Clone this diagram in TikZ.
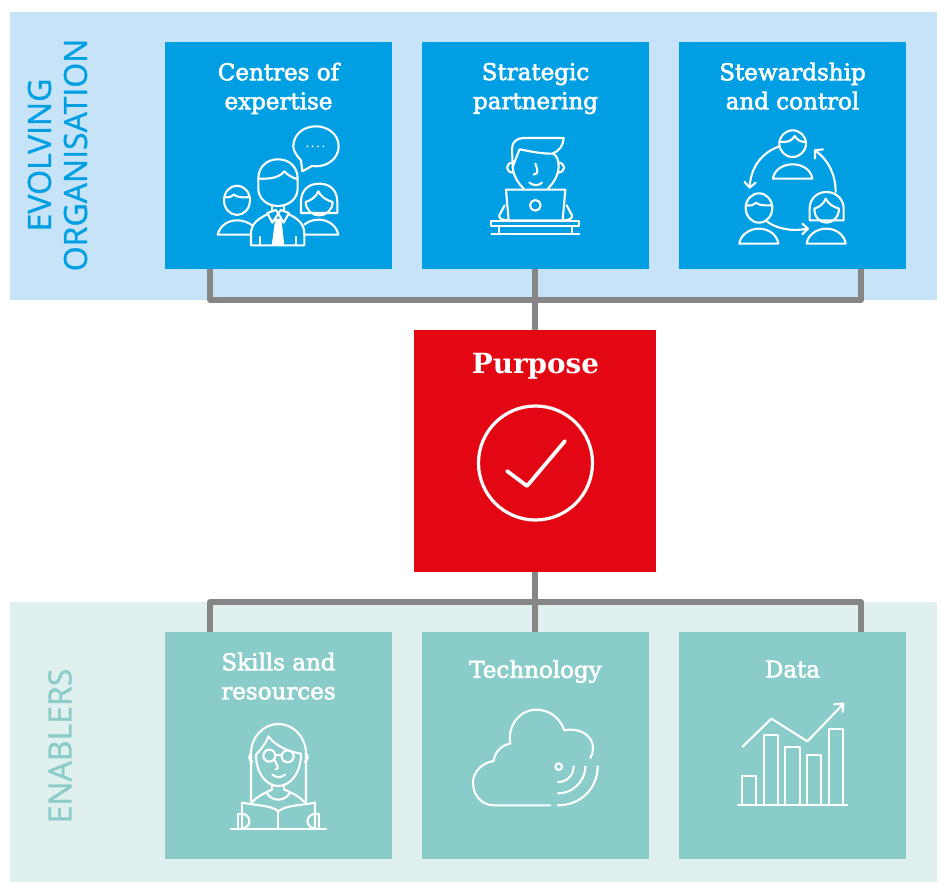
\documentclass[tikz,border=0pt]{standalone}
\usepackage{fontspec}
\setmainfont{DejaVu Serif}
\newfontfamily\titlefont[FakeBold=2.5]{DejaVu Serif}
\newfontfamily\sidefont[FakeBold=1]{Open Sans}
\definecolor{bluebg}{HTML}{C7E3F7}
\definecolor{bluebox}{HTML}{009FE3}
\definecolor{tealbg}{HTML}{E0F0EE}
\definecolor{tealbox}{HTML}{89CCC9}
\definecolor{redbox}{HTML}{E30613}
\definecolor{linkgrey}{HTML}{868686}
\tikzset{
  topbox/.style={draw=none,fill=bluebox,inner sep=0,minimum size=227pt},
  lowbox/.style={draw=none,fill=tealbox,inner sep=0,minimum size=227pt},
  boxtitle/.style={text=white,align=center,text depth=6pt,font=\titlefont\fontsize{23}{29}\selectfont},
  sidetitle/.style={rotate=90,align=center,font=\sidefont\fontsize{32}{36}\selectfont},
  link/.style={draw=linkgrey,line width=5.5pt,line join=round},
  icon/.style={draw=white,line width=2.1pt,line join=round,line cap=round},
  iconat/.style={shift={#1},x=0.3333pt,y=-0.3333pt}
}
\begin{document}
\begin{tikzpicture}[x=1pt,y=-1pt]
        \useasboundingbox (0,0) rectangle (940,882);

        \fill[bluebg] (10,12) rectangle (937,300);
        \fill[tealbg] (10,602) rectangle (937,882);

        \node[sidetitle,text=bluebox] (evolving) at (57.5,155) {EVOLVING\\ORGANISATION};
        \node[sidetitle,text=tealbox] (enablers) at (60,746) {ENABLERS};

        \coordinate (topl) at (210,300);
        \coordinate (topm) at (535,300);
        \coordinate (topr) at (861,300);
        \coordinate (lowl) at (210,602);
        \coordinate (lowm) at (535,602);
        \coordinate (lowr) at (861,602);

        \node[topbox] (centres) at (278.5,155.5) {};
        \node[topbox] (strategic) at (535.5,155.5) {};
        \node[topbox] (stewardship) at (792.5,155.5) {};
        \node[lowbox] (skills) at (278.5,745.5) {};
        \node[lowbox] (technology) at (535.5,745.5) {};
        \node[lowbox] (data) at (792.5,745.5) {};
        \node[fill=redbox,inner sep=0,minimum size=242pt] (purpose) at (535,451) {};

        \draw[link] (centres.south -| topl) -- (topl) -- (topr) -- (stewardship.south -| topr);
        \draw[link] (strategic.south -| topm) -- (purpose.north -| topm);
        \draw[link] (skills.north -| lowl) -- (lowl) -- (lowr) -- (data.north -| lowr);
        \draw[link] (purpose.south -| lowm) -- (technology.north -| lowm);

        \node[boxtitle] (centrest) at (278.5,89) {Centres of\\expertise};
        \node[boxtitle] (strategict) at (535.5,89) {Strategic\\partnering};
        \node[boxtitle] (stewardshipt) at (792.5,89) {Stewardship\\and control};
        \node[boxtitle] (skillst) at (278.5,679) {Skills and\\resources};
        \node[boxtitle] (technologyt) at (535.5,672) {Technology};
        \node[boxtitle] (datat) at (792.5,672) {Data};
        \node[text=white,font=\bfseries\fontsize{27.8}{30}\selectfont] (purposet) at (535.5,366) {Purpose};

        % purpose tick
        \draw[draw=white,line width=3.2pt] (535.5,463) circle (57);
        \draw[draw=white,line width=3.8pt,line cap=round,line join=round] (507,471) -- (527,486) -- (565,441);

        % centres of expertise
        \begin{scope}[iconat={(165,42)},icon]
        \draw (408,355) .. controls (392,338) and (385,325) .. (385,313) .. controls (385,278) and (415,253) .. (453,253) .. controls (490,253) and (521,278) .. (521,313) .. controls (521,348) and (490,373) .. (453,373) .. controls (448,373) and (445,373) .. (441,372) -- (412,388) -- cycle;
        \foreach \dotx in {427,443,459,475}
          \fill[white,draw=none] (\dotx,313) circle (3);
        \draw (280,410) .. controls (280,375) and (305,352) .. (339,352) .. controls (373,352) and (398,375) .. (398,410) -- (398,440) .. controls (398,470) and (372,492) .. (339,492) .. controls (306,492) and (280,470) .. (280,440) -- cycle;
        \draw (280,410) .. controls (320,412) and (345,405) .. (358,388) .. controls (368,400) and (385,408) .. (398,412);
        \draw (322,492) -- (322,505);
        \draw (357,492) -- (357,505);
        \draw (307,513) -- (333,504) -- (340,515) -- (322,542) -- cycle;
        \draw (372,513) -- (347,504) -- (340,515) -- (356,542) -- cycle;
        \fill[white,draw=none] (331,530) -- (349,530) -- (358,610) -- (320,610) -- cycle;
        \draw (307,517) .. controls (280,530) and (258,545) .. (258,575) -- (258,610) -- (418,610) -- (418,575) .. controls (418,545) and (398,530) .. (372,517);
        \draw (285,585) -- (285,610);
        \draw (393,585) -- (393,610);
        \draw (216,475) circle [x radius=39,y radius=44];
        \draw (178,465) .. controls (190,468) and (200,465) .. (207,458) .. controls (215,466) and (235,468) .. (254,465);
        \draw (262,550) .. controls (248,540) and (232,535) .. (216,535) .. controls (190,535) and (165,550) .. (158,578) -- (258,578);
        \draw (408,513) -- (408,480) .. controls (408,445) and (430,425) .. (463,425) .. controls (495,425) and (517,445) .. (517,480) -- (517,513) -- cycle;
        \draw (422,480) .. controls (440,475) and (455,462) .. (460,448) .. controls (468,465) and (485,475) .. (503,480) .. controls (503,503) and (485,520) .. (462,520) .. controls (440,520) and (422,503) .. (422,480) -- cycle;
        \draw (418,548) .. controls (430,538) and (445,533) .. (462,533) .. controls (490,533) and (515,552) .. (520,578) -- (418,578);
        \end{scope}

        % strategic partnering
        \begin{scope}[iconat={(422,42)},icon]
        \draw (272,372) -- (270,320) .. controls (270,300) and (285,288) .. (305,288) -- (425,288) .. controls (425,310) and (410,330) .. (390,335) .. controls (350,335) and (310,325) .. (293,322) .. controls (285,340) and (280,355) .. (272,375) .. controls (275,405) and (290,425) .. (305,440);
        \draw (393,335) .. controls (405,340) and (410,355) .. (410,375) .. controls (408,405) and (392,425) .. (378,440);
        \draw (270,362) .. controls (250,365) and (250,390) .. (272,392);
        \draw (411,362) .. controls (432,365) and (432,390) .. (408,392);
        \draw (340,365) .. controls (348,385) and (350,395) .. (335,398);
        \draw (322,422) .. controls (335,432) and (350,432) .. (360,422);
        \draw (252,443) -- (430,443) -- (422,535) -- (260,535) -- cycle;
        \draw (340,490) circle (16);
        \draw (248,490) -- (232,520) .. controls (230,530) and (240,535) .. (260,535);
        \draw (434,490) -- (450,520) .. controls (452,530) and (442,535) .. (422,535);
        \draw (208,537) rectangle (472,553);
        \draw (230,553) -- (230,577);
        \draw (450,553) -- (450,577);
        \draw (208,577) -- (472,577);
        \end{scope}

        % stewardship and control
        \begin{scope}[iconat={(679,42)},icon]
        \draw (341,305) circle (40);
        \draw (302,298) .. controls (325,305) and (340,295) .. (347,282) .. controls (355,295) and (365,300) .. (380,300);
        \draw (282,410) .. controls (285,385) and (310,367) .. (341,367) .. controls (372,367) and (397,385) .. (400,410) -- cycle;
        \draw (240,498) circle [x radius=40,y radius=44];
        \draw (201,490) .. controls (215,492) and (225,490) .. (232,482) .. controls (240,492) and (260,490) .. (279,490);
        \draw (181,605) .. controls (184,580) and (210,560) .. (240,560) .. controls (270,560) and (295,580) .. (298,605) -- cycle;
        \draw (392,535) -- (392,500) .. controls (392,470) and (415,450) .. (442,450) .. controls (470,450) and (494,470) .. (494,500) -- (494,535) -- cycle;
        \draw (406,500) .. controls (422,495) and (435,485) .. (440,470) .. controls (448,485) and (462,495) .. (480,500) .. controls (480,525) and (462,542) .. (443,542) .. controls (422,542) and (406,525) .. (406,500) -- cycle;
        \draw (383,605) .. controls (386,580) and (412,560) .. (442,560) .. controls (472,560) and (497,580) .. (500,605) -- cycle;
        \draw (302,313) .. controls (250,330) and (215,375) .. (212,435);
        \draw (197,420) -- (212,437) -- (230,422);
        \draw (262,537) .. controls (290,560) and (340,570) .. (385,560);
        \draw (370,545) -- (387,560) -- (370,577);
        \draw (470,450) .. controls (470,400) and (450,355) .. (408,325);
        \draw (408,350) -- (408,325) -- (432,322);
        \end{scope}

        % skills and resources
        \begin{scope}[iconat={(165,632)},icon]
        \draw (258,510) -- (258,365) .. controls (258,315) and (295,276) .. (340,276) .. controls (385,276) and (423,315) .. (423,365) -- (423,510);
        \draw (273,368) .. controls (290,350) and (305,330) .. (310,313) .. controls (330,340) and (370,360) .. (408,365) .. controls (408,425) and (375,462) .. (340,462) .. controls (305,462) and (273,425) .. (273,368) -- cycle;
        \draw (258,365) .. controls (250,370) and (252,385) .. (262,390);
        \draw (423,365) .. controls (431,370) and (429,385) .. (419,390);
        \draw (313,371) circle (18);
        \draw (368,373) circle (18);
        \draw (331,368) -- (350,368);
        \draw (330,385) .. controls (335,400) and (345,410) .. (332,412);
        \draw (322,428) .. controls (335,438) and (348,438) .. (360,428);
        \draw (322,460) -- (322,472);
        \draw (357,460) -- (357,472);
        \draw (305,482) .. controls (320,510) and (360,510) .. (375,482);
        \draw (262,510) .. controls (275,495) and (295,485) .. (322,472);
        \draw (418,510) .. controls (405,495) and (385,485) .. (357,472);
        \draw (232,512) .. controls (270,520) and (320,520) .. (340,538) .. controls (360,520) and (410,520) .. (450,512) -- (450,590);
        \draw (232,512) -- (232,590);
        \draw (340,538) -- (340,590);
        \draw (232,545) -- (218,545) -- (218,590);
        \draw (232,545) .. controls (260,550) and (260,585) .. (232,590);
        \draw (450,545) -- (462,545) -- (462,590);
        \draw (450,545) .. controls (420,550) and (420,585) .. (450,590);
        \draw (197,590) -- (483,590);
        \end{scope}

        % technology
        \begin{scope}[iconat={(422,632)},icon]
        \draw (385,520) -- (215,520) .. controls (180,520) and (153,490) .. (153,452) .. controls (153,420) and (180,392) .. (215,387) .. controls (218,360) and (240,338) .. (265,335) .. controls (255,280) and (295,233) .. (342,233) .. controls (385,233) and (415,260) .. (427,295) .. controls (470,285) and (515,310) .. (513,350) .. controls (513,360) and (510,370) .. (505,378);
        \draw (410,404) circle (10);
        \draw (455,403) .. controls (455,430) and (435,450) .. (408,450);
        \draw (490,403) .. controls (490,450) and (450,485) .. (408,484);
        \draw (527,403) .. controls (527,470) and (475,520) .. (408,520);
        \end{scope}

        % data
        \begin{scope}[iconat={(679,632)},icon]
        \draw (190,520) -- (190,432) -- (232,432) -- (232,520);
        \draw (255,520) -- (255,310) -- (297,310) -- (297,520);
        \draw (319,520) -- (319,344) -- (362,344) -- (362,520);
        \draw (384,520) -- (384,368) -- (426,368) -- (426,520);
        \draw (449,520) -- (449,290) -- (492,290) -- (492,520);
        \draw (177,520) -- (505,520);
        \draw (190,345) -- (277,260) -- (385,328) -- (492,217);
        \draw (465,217) -- (493,215) -- (491,240);
        \end{scope}

      \end{tikzpicture}
\end{document}
